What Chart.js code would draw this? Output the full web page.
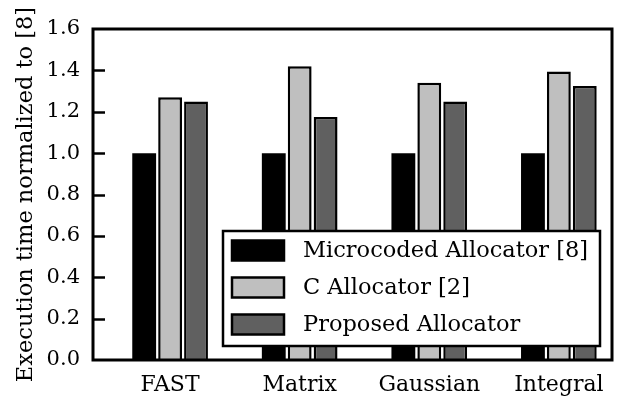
<!DOCTYPE html>
<html>
<head>
<meta charset="utf-8">
<script src="https://cdn.jsdelivr.net/npm/chart.js@4/dist/chart.umd.min.js"></script>
<style>
  html, body { margin: 0; padding: 0; background: #fff; }
  canvas { display: block; }
</style>
</head>
<body>
<canvas id="chart" width="620" height="399"></canvas>
<script>
// === Data ===
const categories = ["FAST", "Matrix", "Gaussian", "Integral"];
const microcoded = [1.0, 1.0, 1.0, 1.0];
const cAllocator = [1.27, 1.42, 1.34, 1.395];
const proposed = [1.25, 1.175, 1.25, 1.325];
const yTicks = [0.0, 0.2, 0.4, 0.6, 0.8, 1.0, 1.2, 1.4, 1.6];

const FONT = "'DejaVu Serif', serif";

// bars placed on a linear x scale so the group offsets match the original
const toPoints = arr => arr.map((v, i) => ({ x: i, y: v }));

// === Frame, inward ticks and legend ===
const framePlugin = {
  id: "frame",
  afterDraw(chart) {
    const ctx = chart.ctx;
    const a = chart.chartArea;
    const ys = chart.scales.y;
    ctx.save();
    ctx.strokeStyle = "#000";
    ctx.lineWidth = 2.5;
    // inward y ticks
    yTicks.forEach(t => {
      if (t === 0 || t === 1.6) return;
      const py = Math.round(ys.getPixelForValue(t)) + 0.5;
      ctx.beginPath();
      ctx.moveTo(a.left, py);
      ctx.lineTo(a.left + 12, py);
      ctx.stroke();
    });

    // legend box
    const lx = 223, ly = 231, lw = 377, lh = 115;
    ctx.fillStyle = "#fff";
    ctx.fillRect(lx, ly, lw, lh);
    ctx.lineWidth = 2.5;
    ctx.strokeRect(lx, ly, lw, lh);
    ctx.font = "22.5px " + FONT;
    ctx.textBaseline = "middle";
    ctx.textAlign = "left";
    chart.data.datasets.forEach((ds, i) => {
      const cy = 250.5 + i * 37;
      ctx.fillStyle = ds.backgroundColor;
      ctx.fillRect(232, cy - 10, 52, 20);
      ctx.strokeStyle = "#000";
      ctx.lineWidth = 2.5;
      ctx.strokeRect(232, cy - 10, 52, 20);
      ctx.fillStyle = "#000";
      ctx.fillText(ds.label, 303, cy + 1);
    });

    // axes frame
    ctx.lineWidth = 3;
    ctx.strokeStyle = "#000";
    ctx.strokeRect(a.left, a.top, a.right - a.left, a.bottom - a.top);
    ctx.restore();
  }
};

const ctx = document.getElementById("chart").getContext("2d");
new Chart(ctx, {
  type: "bar",
  data: {
    datasets: [
      { label: "Microcoded Allocator [8]", data: toPoints(microcoded),
        backgroundColor: "#000000", borderColor: "#000000", borderWidth: 0 },
      { label: "C Allocator [2]", data: toPoints(cAllocator),
        backgroundColor: "#bfbfbf", borderColor: "#000000", borderWidth: 2.5 },
      { label: "Proposed Allocator", data: toPoints(proposed),
        backgroundColor: "#606060", borderColor: "#000000", borderWidth: 2.5 },
    ],
  },
  options: {
    responsive: false,
    animation: false,
    categoryPercentage: 0.6,
    barPercentage: 0.92,
    layout: { padding: { top: 29, right: 8, left: 0, bottom: 0 } },
    plugins: { legend: { display: false }, tooltip: { enabled: false } },
    scales: {
      x: {
        type: "linear",
        offset: false,
        min: -0.595,
        max: 3.41,
        grid: { display: false, offset: false },
        border: { display: false },
        afterBuildTicks: s => { s.ticks = categories.map((c, i) => ({ value: i })); },
        afterFit: s => { s.height = 39; },
        ticks: {
          padding: 4,
          color: "#000",
          font: { family: FONT, size: 22 },
          callback: v => categories[v] ?? "",
        },
      },
      y: {
        min: 0,
        max: 1.6,
        grid: { display: false, drawTicks: false },
        border: { display: false },
        afterBuildTicks: s => { s.ticks = yTicks.map(v => ({ value: v })); },
        afterFit: s => { s.width = 93; },
        ticks: {
          padding: 13,
          color: "#000",
          font: { family: FONT, size: 21 },
          callback: v => Number(v).toFixed(1),
        },
        title: {
          display: true,
          text: "Execution time normalized to [8]",
          color: "#000",
          font: { family: FONT, size: 22.5 },
          padding: { top: 13, bottom: 0 },
        },
      },
    },
  },
  plugins: [framePlugin],
});
</script>
</body>
</html>
